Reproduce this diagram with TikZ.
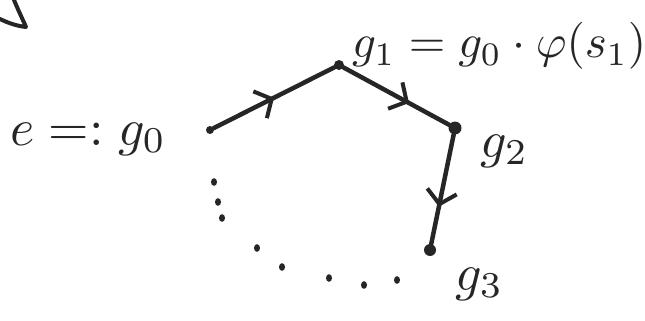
\documentclass[tikz,border=0pt]{standalone}
\usepackage{graphicx}
\usetikzlibrary{arrows.meta,decorations.markings}
\newcommand{\bigtxt}[2][5.2]{\scalebox{#1}{#2}}
\tikzset{
  vtx/.style={circle,fill=black!85,inner sep=0pt,minimum size=#1},
  vtx/.default=10pt,
  lbl/.style={inner sep=0pt,anchor=base west,text=black!85},
  edge/.style={draw=black!85,line width=4.5pt,line cap=round,
    postaction={decorate,decoration={markings,
      mark=at position #1 with {\arrow[black!85,line width=4pt]{Straight Barb[length=13pt,width=30pt]}}}}},
  dotmark/.style={fill=black!85,draw=none}
}
\begin{document}
\begin{tikzpicture}[x=1pt,y=-1pt]
\useasboundingbox (0,0) rectangle (645,321);
% vertices
\node[vtx=8pt] (g0) at (210,130) {};
\node[vtx] (g1) at (339,65) {};
\node[vtx=13pt] (g2) at (455,128) {};
\node[vtx=12pt] (g3) at (430,250) {};
% edges
\draw[edge=0.5] (g0) -- (g1);
\draw[edge=0.62] (g1) -- (g2);
\draw[edge=0.66] (g2) -- (g3);
% dotted return path
\foreach \p in {(214,182),(218,202),(222,218),(257,248),(282,267),(329,278),(364,285),(397,280)}
  \fill[dotmark] \p ellipse (3pt and 3.8pt);
% labels
\node[lbl] (l0) at (10,145) {\bigtxt{$e \mathrel{=:} g_0$}};
\node[lbl] (l1) at (352,58) {\bigtxt[4.7]{$g_1 = g_0 \cdot \varphi(s_1)$}};
\node[lbl] (l2) at (480,157) {\bigtxt{$g_2$}};
\node[lbl] (l3) at (455,290) {\bigtxt{$g_3$}};
% stroke at the top left corner
\draw[black!85,line width=4pt,line cap=round,line join=round]
  (14,0) .. controls (19,12) and (23,20) .. (26,27) .. controls (16,26) and (6,22) .. (0,19);
\end{tikzpicture}
\end{document}
